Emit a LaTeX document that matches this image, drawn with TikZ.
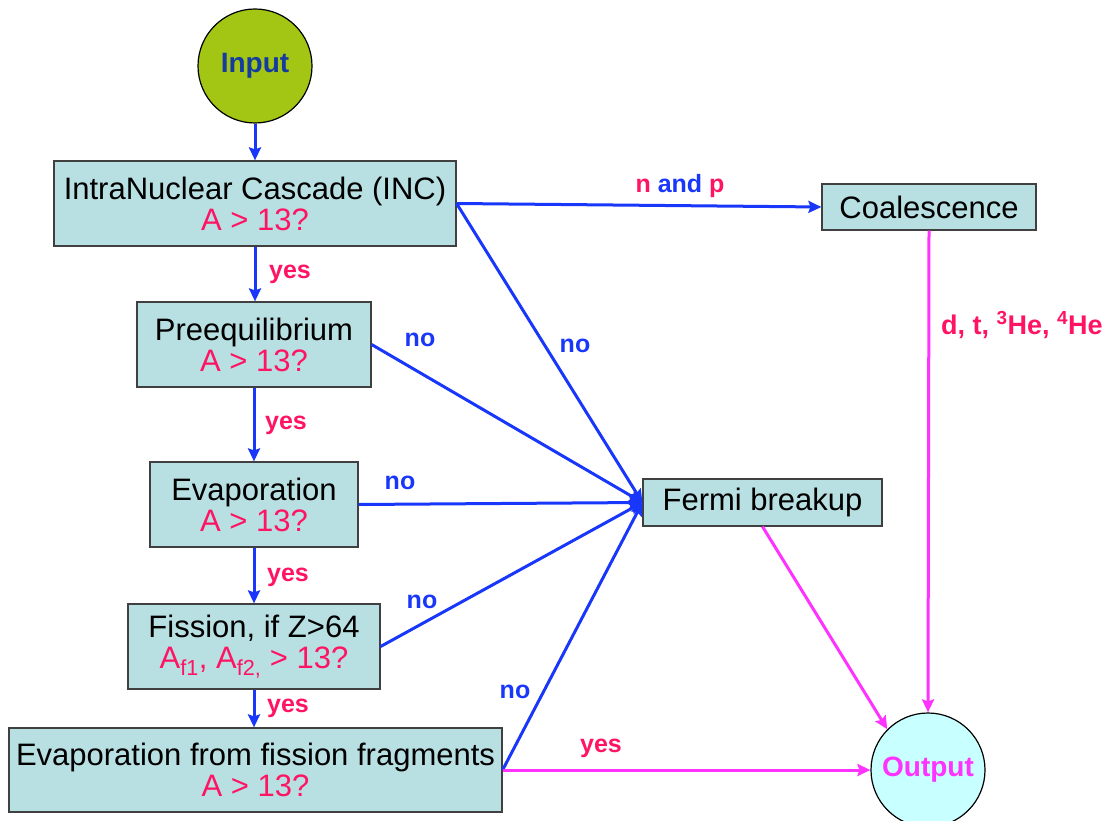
\documentclass[tikz,border=0pt]{standalone}
\usepackage{fontspec}
\setmainfont{Liberation Sans}
\usetikzlibrary{arrows.meta}
\definecolor{boxfill}{RGB}{184,223,226}
\definecolor{flowblue}{RGB}{25,55,250}
\definecolor{askpink}{RGB}{255,20,100}
\definecolor{outmag}{RGB}{255,51,255}
\definecolor{infill}{RGB}{163,198,21}
\definecolor{intext}{RGB}{20,60,160}
\definecolor{outfill}{RGB}{200,255,255}

\begin{document}
\begin{tikzpicture}[x=1pt,y=-1pt,
  stage/.style={draw=black!75,line width=1.2pt,fill=boxfill,align=center,inner sep=0pt,minimum height=85pt,font=\fontsize{31}{31}\selectfont},
  endpt/.style={circle,draw=black,line width=1.2pt,inner sep=0pt,minimum size=114pt,font=\fontsize{28}{28}\selectfont\bfseries},
  lbl/.style={inner sep=0pt,font=\fontsize{25}{25}\selectfont\bfseries},
  bflow/.style={draw=flowblue,line width=3pt,-{Stealth[length=13pt,width=12pt,inset=2pt]}},
  mflow/.style={draw=outmag,line width=3pt,-{Stealth[length=13pt,width=12pt,inset=2pt]}}]
\useasboundingbox (0,0) rectangle (1105,821);

% main column
\node[endpt,fill=infill,text=intext] (input) at (255,66) {Input};
\node[stage,minimum width=402pt] (inc) at (255,203.5) {IntraNuclear Cascade (INC)\\\textcolor{askpink}{A > 13?}};
\node[stage,minimum width=234pt] (preeq) at (254,344.5) {Preequilibrium\\\textcolor{askpink}{A > 13?}};
\node[stage,minimum width=208pt] (evap) at (254,504.5) {Evaporation\\\textcolor{askpink}{A > 13?}};
\node[stage,minimum width=252pt] (fiss) at (254,646.5) {Fission, if Z>64\\\textcolor{askpink}{A\textsubscript{f1}, A\textsubscript{f2,} > 13?}};
\node[stage,minimum width=493pt,minimum height=84pt] (evff) at (255.5,770) {Evaporation from fission fragments\\\textcolor{askpink}{A > 13?}};

% right side
\node[stage,minimum width=214pt,minimum height=46pt] (coal) at (929,207) {Coalescence};
\node[stage,minimum width=239pt,minimum height=47pt] (fermi) at (762.5,502.5) {Fermi breakup};
\node[endpt,fill=outfill,text=outmag] (output) at (928,770) {Output};

% yes path
\draw[bflow] (input) -- (inc);
\draw[bflow] (inc.south) -- (inc.south |- preeq.north);
\draw[bflow] (preeq) -- (evap);
\draw[bflow] (evap) -- (fiss);
\draw[bflow] (fiss.south) -- (fiss.south |- evff.north);
\node[lbl,text=askpink] (y1) at (290,274) {yes};
\node[lbl,text=askpink] (y2) at (286,425) {yes};
\node[lbl,text=askpink] (y3) at (288,577) {yes};
\node[lbl,text=askpink] (y4) at (288,708) {yes};

% no path
\draw[bflow] (inc.east) -- (coal.west);
\draw[bflow] (inc.east) -- (fermi.west);
\draw[bflow] (preeq.east) -- (fermi.west);
\draw[bflow] (evap.east) -- (fermi.west);
\draw[bflow] (fiss.east) -- (fermi.west);
\draw[bflow] (evff.east) -- (fermi.west);
\node[lbl] (np) at (680,186) {\textcolor{askpink}{n} \textcolor{flowblue}{and} \textcolor{askpink}{p}};
\node[lbl,text=flowblue] (n1) at (575,346) {no};
\node[lbl,text=flowblue] (n2) at (420,340) {no};
\node[lbl,text=flowblue] (n3) at (400,483) {no};
\node[lbl,text=flowblue] (n4) at (422,602) {no};
\node[lbl,text=flowblue] (n5) at (515,692) {no};

% to output
\draw[mflow] (evff.east) -- (output.west);
\draw[mflow] (fermi.south) -- (output.135);
\draw[mflow] (coal.south) -- (output.north);
\node[lbl,text=askpink] (y5) at (601,748) {yes};
\node[lbl,text=askpink,anchor=west,font=\fontsize{27}{27}\selectfont\bfseries] (frag) at (941,325) {d, t, \textsuperscript{3}He, \textsuperscript{4}He};
\end{tikzpicture}
\end{document}
